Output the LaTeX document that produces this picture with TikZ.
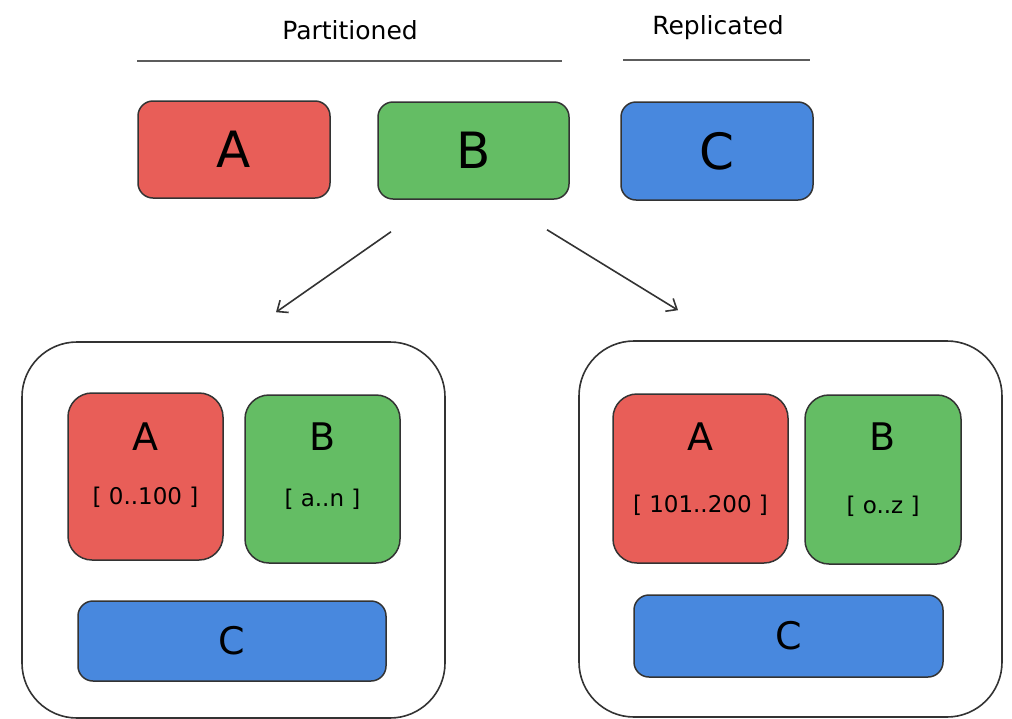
\documentclass[tikz,border=0pt]{standalone}
\usepackage{fontspec}
\setmainfont{DejaVu Sans}
\usetikzlibrary{positioning,arrows.meta}

\definecolor{boxred}{HTML}{E85E58}
\definecolor{boxgreen}{HTML}{64BD64}
\definecolor{boxblue}{HTML}{4888DE}
\definecolor{edge}{HTML}{333333}

\begin{document}
\begin{tikzpicture}[x=1pt, y=-1pt,
	  box/.style = {draw=edge, line width=1.5pt, inner sep=0pt, rounded corners=15pt},
	  redbox/.style = {box, fill=boxred},
	  greenbox/.style = {box, fill=boxgreen},
	  bluebox/.style = {box, fill=boxblue},
	  holder/.style = {draw=edge, line width=1.6pt, rounded corners=55pt, minimum width=423, minimum height=376, inner sep=0pt},
	  title/.style = {font=\fontsize{25}{30}\selectfont},
	  bigletter/.style = {font=\fontsize{50}{60}\selectfont},
	  letter/.style = {font=\fontsize{38}{44}\selectfont},
	  spanlabel/.style = {font=\fontsize{23}{27}\selectfont},
	  rule/.style = {draw=edge!80, line width=1.6pt},
	  flow/.style = {draw=edge, line width=1.6pt, -{Straight Barb[length=9pt, width=15pt]}}
	]
	  \useasboundingbox (0,0) rectangle (1012,718);

	  % headings
	  \node [title] (part) at (350,30) {Partitioned};
	  \node [title] (repl) at (718,28) {Replicated};
	  \coordinate (partL) at (137,61);
	  \coordinate (partR) at (562,61);
	  \coordinate (replL) at (623,60);
	  \coordinate (replR) at (810,60);
	  \draw [rule] (partL)--(partR);
	  \draw [rule] (replL)--(replR);

	  % tables
	  \node [redbox, minimum width=192, minimum height=97] (A) at (234,149.5) {};
	  \node [greenbox, minimum width=191, minimum height=97] (B) at (473.5,150.5) {};
	  \node [bluebox, minimum width=192, minimum height=98] (C) at (717,151) {};
	  \node [bigletter] (Atext) at (A) {A};
	  \node [bigletter] (Btext) at (B) {B};
	  \node [bigletter] (Ctext) at (C) {C};

	  % nodes
	  \node [holder] (left) at (233.5,530) {};
	  \node [holder] (right) at (790.5,529) {};

	  \coordinate (fromL) at ([xshift=-82.5,yshift=-32]B.south);
	  \coordinate (fromR) at ([xshift=73.5,yshift=-30]B.south);
	  \coordinate (toL) at ([xshift=42.5,yshift=29]left.north);
	  \coordinate (toR) at ([xshift=-112.5,yshift=30]right.north);
	  \draw [flow] (fromL)--(toL);
	  \draw [flow] (fromR)--(toR);

	  % left node
	  \node [redbox, rounded corners=24pt, minimum width=155, minimum height=167] (lA) at (145.5,476.5) {};
	  \node [greenbox, rounded corners=24pt, minimum width=155, minimum height=168] (lB) at (322.5,479) {};
	  \node [bluebox, minimum width=308, minimum height=80] (lC) at (232,641) {};
	  \node [letter] (lAtext) at (145.5,437) {A};
	  \node [spanlabel] (lArange) at (145.5,497) {[ 0..100 ]};
	  \node [letter] (lBtext) at (322.5,437) {B};
	  \node [spanlabel] (lBrange) at (322.5,499) {[ a..n ]};
	  \node [letter] (lCtext) at (lC) {C};

	  % right node
	  \node [redbox, rounded corners=24pt, minimum width=175, minimum height=169] (rA) at (700.5,478.5) {};
	  \node [greenbox, rounded corners=24pt, minimum width=156, minimum height=169] (rB) at (883,479.5) {};
	  \node [bluebox, minimum width=309, minimum height=82] (rC) at (788.5,636) {};
	  \node [letter] (rAtext) at (700.5,437) {A};
	  \node [spanlabel] (rArange) at (700.5,505) {[ 101..200 ]};
	  \node [letter] (rBtext) at (883,437) {B};
	  \node [spanlabel] (rBrange) at (883,506) {[ o..z ]};
	  \node [letter] (rCtext) at (rC) {C};

	\end{tikzpicture}
\end{document}
